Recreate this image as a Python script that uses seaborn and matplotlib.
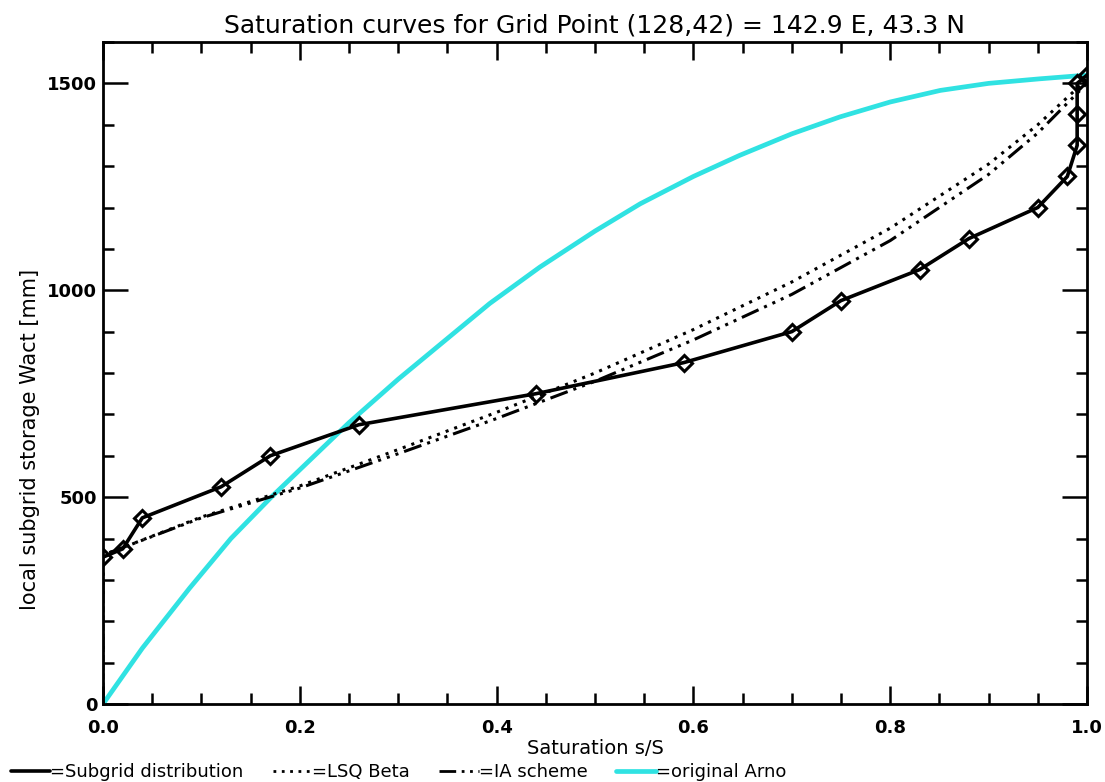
import matplotlib
matplotlib.use("Agg")
import matplotlib.pyplot as plt
import seaborn as sns
from matplotlib.lines import Line2D
from matplotlib.ticker import MultipleLocator, FormatStrFormatter

sns.set_theme(style="ticks")
plt.rcParams['font.family'] = ['DejaVu Sans']
plt.rcParams['text.color'] = 'black'
plt.rcParams['axes.labelcolor'] = 'black'
plt.rcParams['xtick.color'] = 'black'
plt.rcParams['ytick.color'] = 'black'

# subgrid distribution (diamonds)
sub_s = [0.0, 0.02, 0.04, 0.12, 0.17, 0.26, 0.44, 0.59, 0.70, 0.75, 0.83, 0.88,
         0.95, 0.98, 0.99, 0.99, 0.99, 1.0]
sub_w = [355, 375, 450, 525, 600, 675, 750, 825, 900, 975, 1050, 1125,
         1200, 1275, 1350, 1425, 1500, 1520]

# LSQ Beta fit
lsq_s = [0.0, 0.0, 0.02, 0.1, 0.2, 0.3, 0.4, 0.5, 0.6, 0.7, 0.8, 0.9, 0.95, 1.0]
lsq_w = [0, 360, 378, 452, 527, 615, 705, 800, 905, 1020, 1150, 1305, 1400, 1510]

# IA scheme
ia_s = [0.0, 0.0, 0.02, 0.1, 0.2, 0.3, 0.4, 0.5, 0.6, 0.7, 0.8, 0.9, 0.95, 1.0]
ia_w = [0, 360, 378, 450, 522, 605, 690, 780, 880, 990, 1120, 1280, 1380, 1500]

# original Arno curve
arno_s = [0.0, 0.04, 0.088, 0.13, 0.171, 0.25, 0.30, 0.393, 0.444, 0.50, 0.546,
          0.60, 0.647, 0.70, 0.749, 0.80, 0.851, 0.90, 0.952, 1.0]
arno_w = [0, 135, 280, 400, 500, 680, 785, 968, 1056, 1143, 1209,
          1275, 1326, 1378, 1419, 1455, 1483, 1500, 1511, 1520]

cyan = '#30e2e2'
dash3dot = (0, (6, 2, 1, 2, 1, 2, 1, 2))

fig = plt.figure(figsize=(11.05, 7.82), dpi=100)
ax = fig.add_axes([0.0932, 0.0997, 0.8905, 0.8466])

sns.lineplot(x=arno_s, y=arno_w, ax=ax, color=cyan, lw=3.4, estimator=None, sort=False)
sns.lineplot(x=lsq_s, y=lsq_w, ax=ax, color='black', lw=2.2, estimator=None, sort=False,
             linestyle=(0, (1, 2)))
sns.lineplot(x=ia_s, y=ia_w, ax=ax, color='black', lw=2.2, estimator=None, sort=False,
             linestyle=dash3dot)
sns.lineplot(x=sub_s, y=sub_w, ax=ax, color='black', lw=2.6, estimator=None, sort=False,
             marker='D', markersize=8, markerfacecolor='none', markeredgecolor='black',
             markeredgewidth=2.2)

ax.set_xlim(0, 1)
ax.set_ylim(0, 1600)
ax.xaxis.set_major_locator(MultipleLocator(0.2))
ax.xaxis.set_minor_locator(MultipleLocator(0.05))
ax.yaxis.set_major_locator(MultipleLocator(500))
ax.yaxis.set_minor_locator(MultipleLocator(100))
ax.xaxis.set_major_formatter(FormatStrFormatter('%.1f'))
ax.yaxis.set_major_formatter(FormatStrFormatter('%d'))

ax.tick_params(which='both', direction='in', top=True, right=True, color='black', width=1.8)
ax.tick_params(axis='x', which='major', length=13, pad=11, labelsize=13)
ax.tick_params(axis='x', which='minor', length=8)
ax.tick_params(axis='y', which='major', length=18, pad=4, labelsize=13)
ax.tick_params(axis='y', which='minor', length=8)
for lab in ax.get_xticklabels() + ax.get_yticklabels():
    lab.set_fontweight('bold')
for sp in ax.spines.values():
    sp.set_color('black')
    sp.set_linewidth(2)

ax.set_title("Saturation curves for Grid Point (128,42) = 142.9 E, 43.3 N",
             fontsize=18, pad=7)
ax.set_xlabel("Saturation s/S", fontsize=14, labelpad=1)
ax.set_ylabel("local subgrid storage Wact [mm]", fontsize=15)
ax.yaxis.set_label_coords(-0.064, 0.40)

handles = [
    Line2D([], [], color='black', lw=2.6),
    Line2D([], [], color='black', lw=2, linestyle=(0, (1, 2))),
    Line2D([], [], color='black', lw=2, linestyle=dash3dot),
    Line2D([], [], color=cyan, lw=3.4),
]
labels = ["=Subgrid distribution", "=LSQ Beta", "=IA scheme", "=original Arno"]
fig.legend(handles, labels, loc='lower left', bbox_to_anchor=(-0.005, -0.02), ncol=4,
           frameon=False, fontsize=13, handlelength=2.2, handletextpad=0.0,
           columnspacing=1.6)

fig.savefig("out.png", dpi=100)
